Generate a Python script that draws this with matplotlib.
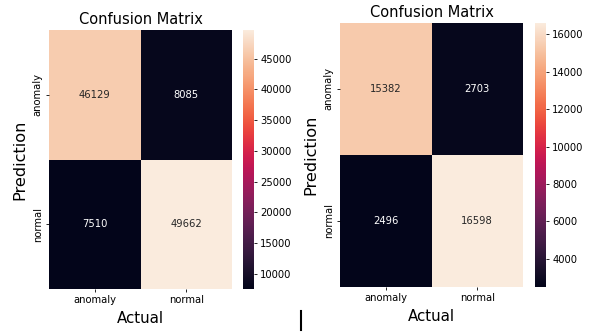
import matplotlib
matplotlib.use("Agg")
import matplotlib.pyplot as plt
import seaborn as sns
import numpy as np

labels = ["anomaly", "normal"]
cm_left = [[46129, 8085], [7510, 49662]]
cm_right = [[15382, 2703], [2496, 16598]]
ticks_left = [10000, 15000, 20000, 25000, 30000, 35000, 40000, 45000]
ticks_right = [4000, 6000, 8000, 10000, 12000, 14000, 16000]

W, H = 592, 333
fig = plt.figure(figsize=(W / 100, H / 100), dpi=100)

def px(x0, y0, x1, y1):
    return [x0 / W, 1 - y1 / H, (x1 - x0) / W, (y1 - y0) / H]

def draw(cm, ticks, ax_box, cb_box):
    ax = fig.add_axes(px(*ax_box))
    cax = fig.add_axes(px(*cb_box))
    sns.heatmap(np.array(cm), annot=True, fmt="d", ax=ax, cbar_ax=cax,
                xticklabels=labels, yticklabels=labels,
                annot_kws={"fontsize": 7.2})
    ax.set_title("Confusion Matrix", fontsize=10.5, pad=4)
    ax.set_xlabel("Actual", fontsize=10.8, labelpad=4)
    ax.set_ylabel("Prediction", fontsize=11.6, labelpad=4)
    ax.tick_params(labelsize=7.2, length=2.5, width=0.6, pad=2)
    cax.set_yticks(ticks)
    cax.tick_params(labelsize=7.2, length=2.5, width=0.6, pad=2)
    cax.yaxis.set_ticks_position("right")
    return ax

draw(cm_left, ticks_left, (49, 30, 232, 289), (243, 30, 254, 289))
draw(cm_right, ticks_right, (340, 23, 523, 287), (535, 23, 546, 287))

fig.add_artist(plt.Line2D([301 / W, 301 / W], [1 - 311 / H, 1 - 330 / H],
                          color="black", lw=1.5, transform=fig.transFigure))

fig.savefig("out.png", dpi=100)
